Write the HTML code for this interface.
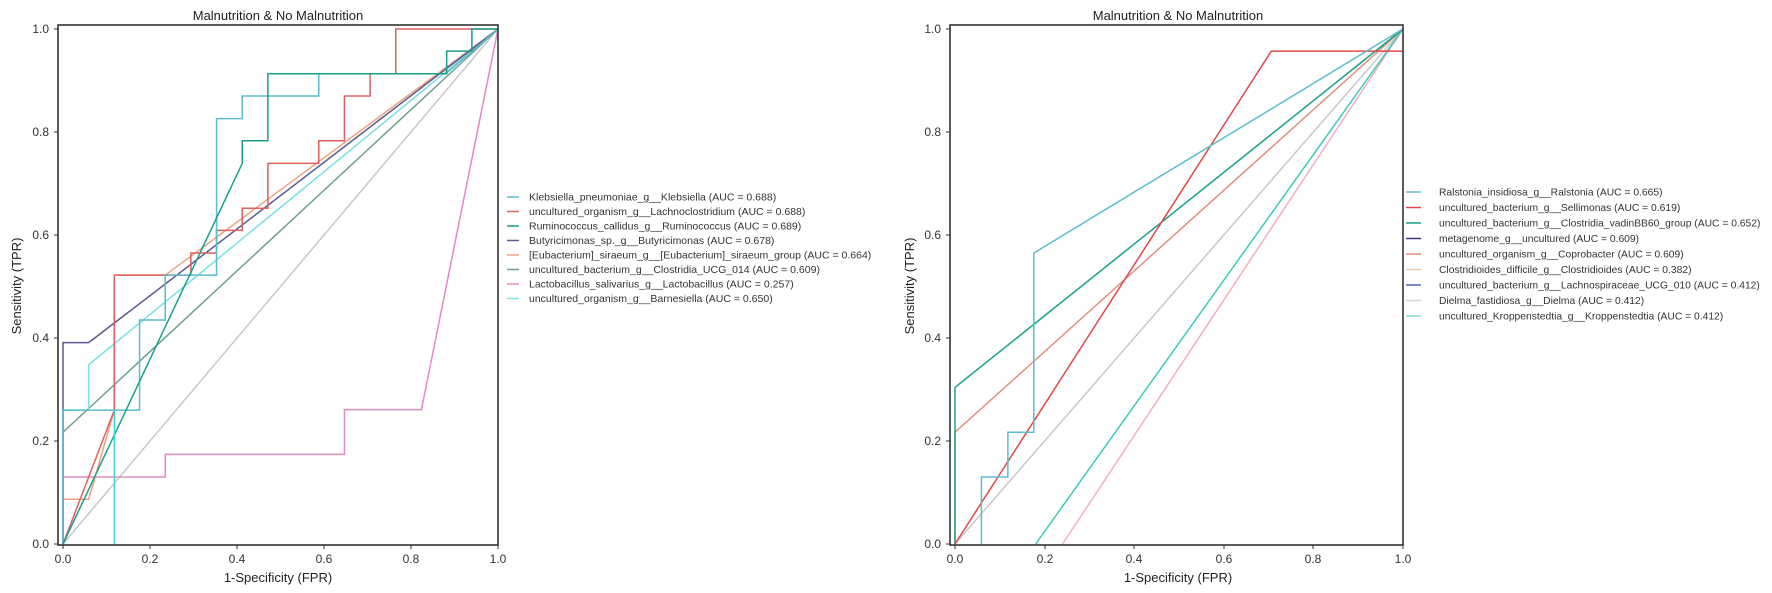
<!DOCTYPE html>
<html><head><meta charset="utf-8"><style>
html,body{margin:0;padding:0;background:#fff;}
svg{display:block;font-family:"Liberation Sans",sans-serif;}
.l{fill:none;stroke-width:1.5;vector-effect:non-scaling-stroke;}
.t{font-size:12px;fill:#333;}
.lg{font-size:10.5px;fill:#333;}
.lg2{font-size:10.3px;fill:#333;}
.ti{font-size:13px;fill:#222;}
</style></head><body>
<svg width="1772" height="593" viewBox="0 0 1772 593" xmlns="http://www.w3.org/2000/svg">
<!-- LEFT PLOT -->
<text class="ti" x="278" y="20" text-anchor="middle">Malnutrition &amp; No Malnutrition</text>
<g transform="translate(63,544) scale(435,-515)">
<polyline class="l" stroke="#c8c8c8" points="0,0 1,1"/>
<polyline class="l" stroke="#e08cc0" points="0,0 0,0.13 0.235,0.13 0.235,0.174 0.647,0.174 0.647,0.261 0.824,0.261 1,1"/>
<polyline class="l" stroke="#6f9f8f" points="0,0.217 1,1"/>
<polyline class="l" stroke="#f0a080" points="0,0 0,0.087 0.059,0.087 0.118,0.26 0.118,0.522 0.235,0.522 1,1"/>
<polyline class="l" stroke="#7ae0e0" points="0,0 0,0.26 0.059,0.26 0.059,0.348 1,1"/>
<polyline class="l" stroke="#5a5a8f" points="0,0 0,0.391 0.059,0.391 1,1"/>
<polyline class="l" stroke="#e06060" points="0,0 0.118,0.26 0.118,0.522 0.235,0.522 0.294,0.522 0.294,0.565 0.353,0.565 0.353,0.609 0.412,0.609 0.412,0.652 0.471,0.652 0.471,0.739 0.588,0.739 0.588,0.783 0.647,0.783 0.647,0.87 0.706,0.87 0.706,0.913 0.765,0.913 0.765,1 1,1"/>
<polyline class="l" stroke="#5bbccc" points="0,0 0,0.26 0.176,0.26 0.176,0.435 0.235,0.435 0.235,0.522 0.353,0.522 0.353,0.826 0.412,0.826 0.412,0.87 0.588,0.87 0.588,0.913 0.88,0.913 1,1"/>
<polyline class="l" stroke="#1aa08a" points="0,0 0.412,0.739 0.412,0.783 0.471,0.783 0.471,0.913 0.882,0.913 0.882,0.957 0.94,0.957 0.94,1 1,1"/>
<polyline class="l" stroke="#40d8d8" points="0.118,0 0.118,0.26"/>
</g>
<rect x="58" y="25" width="440" height="520" fill="none" stroke="#333" stroke-width="1.6"/>
<g stroke="#333" stroke-width="1">
<line x1="54" y1="544" x2="58" y2="544"/><line x1="54" y1="441" x2="58" y2="441"/><line x1="54" y1="338" x2="58" y2="338"/><line x1="54" y1="235" x2="58" y2="235"/><line x1="54" y1="132" x2="58" y2="132"/><line x1="54" y1="29" x2="58" y2="29"/>
<line x1="63" y1="545" x2="63" y2="549"/><line x1="150" y1="545" x2="150" y2="549"/><line x1="237" y1="545" x2="237" y2="549"/><line x1="324" y1="545" x2="324" y2="549"/><line x1="411" y1="545" x2="411" y2="549"/><line x1="498" y1="545" x2="498" y2="549"/>
</g>
<g class="t" text-anchor="end">
<text x="49" y="548">0.0</text><text x="49" y="445">0.2</text><text x="49" y="342">0.4</text><text x="49" y="239">0.6</text><text x="49" y="136">0.8</text><text x="49" y="33">1.0</text></g>
<g class="t" text-anchor="middle">
<text x="63" y="563">0.0</text><text x="150" y="563">0.2</text><text x="237" y="563">0.4</text><text x="324" y="563">0.6</text><text x="411" y="563">0.8</text><text x="498" y="563">1.0</text></g>
<text class="ti" x="278" y="582" text-anchor="middle">1-Specificity (FPR)</text>
<text class="ti" transform="translate(21,286) rotate(-90)" text-anchor="middle">Sensitivity (TPR)</text>
<g stroke-width="1.5">
<line x1="507" y1="197" x2="519" y2="197" stroke="#5bbccc"/>
<line x1="507" y1="211.5" x2="519" y2="211.5" stroke="#e06060"/>
<line x1="507" y1="226" x2="519" y2="226" stroke="#1aa08a"/>
<line x1="507" y1="240.5" x2="519" y2="240.5" stroke="#5a5a8f"/>
<line x1="507" y1="255" x2="519" y2="255" stroke="#f0a080"/>
<line x1="507" y1="269.5" x2="519" y2="269.5" stroke="#6f9f8f"/>
<line x1="507" y1="284" x2="519" y2="284" stroke="#e08cc0"/>
<line x1="507" y1="298.5" x2="519" y2="298.5" stroke="#7ae0e0"/>
</g>
<g class="lg">
<text x="529" y="200.5">Klebsiella_pneumoniae_g__Klebsiella (AUC = 0.688)</text>
<text x="529" y="215">uncultured_organism_g__Lachnoclostridium (AUC = 0.688)</text>
<text x="529" y="229.5">Ruminococcus_callidus_g__Ruminococcus (AUC = 0.689)</text>
<text x="529" y="244">Butyricimonas_sp._g__Butyricimonas (AUC = 0.678)</text>
<text x="529" y="258.5">[Eubacterium]_siraeum_g__[Eubacterium]_siraeum_group (AUC = 0.664)</text>
<text x="529" y="273">uncultured_bacterium_g__Clostridia_UCG_014 (AUC = 0.609)</text>
<text x="529" y="287.5">Lactobacillus_salivarius_g__Lactobacillus (AUC = 0.257)</text>
<text x="529" y="302">uncultured_organism_g__Barnesiella (AUC = 0.650)</text>
</g>

<!-- RIGHT PLOT -->
<text class="ti" x="1178" y="20" text-anchor="middle">Malnutrition &amp; No Malnutrition</text>
<g transform="translate(955,544) scale(448,-515)">
<polyline class="l" stroke="#c8c8c8" points="0,0 1,1"/>
<polyline class="l" stroke="#f0b0c0" points="0.24,0 1,1"/>
<polyline class="l" stroke="#40c8b8" points="0.18,0 1,1"/>
<polyline class="l" stroke="#e09080" points="0,0 0,0.217 1,1"/>
<polyline class="l" stroke="#1aa08a" points="0,0 0,0.304 1,1"/>
<polyline class="l" stroke="#e04848" points="0,0 0.706,0.957 1,0.957"/>
<polyline class="l" stroke="#5bbccc" points="0.059,0 0.059,0.13 0.118,0.13 0.118,0.217 0.176,0.217 0.176,0.565 1,1"/>
</g>
<rect x="950" y="25" width="453" height="520" fill="none" stroke="#333" stroke-width="1.6"/>
<g stroke="#333" stroke-width="1">
<line x1="946" y1="544" x2="950" y2="544"/><line x1="946" y1="441" x2="950" y2="441"/><line x1="946" y1="338" x2="950" y2="338"/><line x1="946" y1="235" x2="950" y2="235"/><line x1="946" y1="132" x2="950" y2="132"/><line x1="946" y1="29" x2="950" y2="29"/>
<line x1="955" y1="545" x2="955" y2="549"/><line x1="1045" y1="545" x2="1045" y2="549"/><line x1="1134" y1="545" x2="1134" y2="549"/><line x1="1224" y1="545" x2="1224" y2="549"/><line x1="1313" y1="545" x2="1313" y2="549"/><line x1="1403" y1="545" x2="1403" y2="549"/>
</g>
<g class="t" text-anchor="end">
<text x="941" y="548">0.0</text><text x="941" y="445">0.2</text><text x="941" y="342">0.4</text><text x="941" y="239">0.6</text><text x="941" y="136">0.8</text><text x="941" y="33">1.0</text></g>
<g class="t" text-anchor="middle">
<text x="955" y="563">0.0</text><text x="1045" y="563">0.2</text><text x="1134" y="563">0.4</text><text x="1224" y="563">0.6</text><text x="1313" y="563">0.8</text><text x="1403" y="563">1.0</text></g>
<text class="ti" x="1178" y="582" text-anchor="middle">1-Specificity (FPR)</text>
<text class="ti" transform="translate(914,286) rotate(-90)" text-anchor="middle">Sensitivity (TPR)</text>
<g stroke-width="1.5">
<line x1="1406" y1="192" x2="1421" y2="192" stroke="#5bbccc"/>
<line x1="1406" y1="207.5" x2="1421" y2="207.5" stroke="#e04848"/>
<line x1="1406" y1="223" x2="1421" y2="223" stroke="#1aa08a"/>
<line x1="1406" y1="238.5" x2="1421" y2="238.5" stroke="#3a3a80"/>
<line x1="1406" y1="254" x2="1421" y2="254" stroke="#e09080"/>
<line x1="1406" y1="269.5" x2="1421" y2="269.5" stroke="#e8c8b0"/>
<line x1="1406" y1="285" x2="1421" y2="285" stroke="#5060c0"/>
<line x1="1406" y1="300.5" x2="1421" y2="300.5" stroke="#d8d0d8"/>
<line x1="1406" y1="316" x2="1421" y2="316" stroke="#80d8c8"/>
</g>
<g class="lg2">
<text x="1439" y="195.5">Ralstonia_insidiosa_g__Ralstonia (AUC = 0.665)</text>
<text x="1439" y="211">uncultured_bacterium_g__Sellimonas (AUC = 0.619)</text>
<text x="1439" y="226.5">uncultured_bacterium_g__Clostridia_vadinBB60_group (AUC = 0.652)</text>
<text x="1439" y="242">metagenome_g__uncultured (AUC = 0.609)</text>
<text x="1439" y="257.5">uncultured_organism_g__Coprobacter (AUC = 0.609)</text>
<text x="1439" y="273">Clostridioides_difficile_g__Clostridioides (AUC = 0.382)</text>
<text x="1439" y="288.5">uncultured_bacterium_g__Lachnospiraceae_UCG_010 (AUC = 0.412)</text>
<text x="1439" y="304">Dielma_fastidiosa_g__Dielma (AUC = 0.412)</text>
<text x="1439" y="319.5">uncultured_Kroppenstedtia_g__Kroppenstedtia (AUC = 0.412)</text>
</g>
</svg>
</body></html>
